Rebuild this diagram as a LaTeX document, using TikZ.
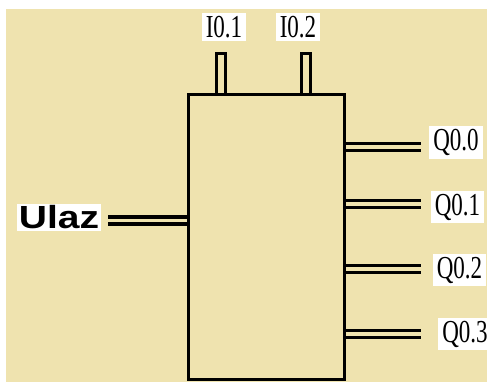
\documentclass[tikz,border=0pt]{standalone}
\usepackage{fontspec}
\usepackage{graphicx}
\setmainfont{Liberation Serif}
\newfontfamily\ulazfont{Liberation Sans}
\usetikzlibrary{positioning}

\definecolor{plcbg}{RGB}{239,227,175}
\newcommand{\plctxt}[1]{\scalebox{0.72}[1]{#1}}

\begin{document}
\begin{tikzpicture}[x=1pt, y=1pt,
    blk/.style={draw, line width=3.2pt, fill=plcbg, minimum width=156pt, minimum height=285pt, inner sep=0pt},
    pinline/.style={line width=3pt},
    wire/.style={line width=3.3pt, double=plcbg, double distance=3.7pt},
    lbl/.style={fill=white, inner xsep=4pt, inner ysep=3pt, font=\fontsize{32}{34}\selectfont},
    inlbl/.style={fill=white, inner xsep=2pt, inner ysep=2pt, font=\ulazfont\bfseries\fontsize{32}{34}\selectfont}
]
\useasboundingbox (0,0) rectangle (491,385);
\fill[plcbg] (6,3) rectangle (487,376);

% Block with two input pins on top
\draw[pinline] (216.5,288) -- (216.5,331.5) -- (225.5,331.5) -- (225.5,288);
\draw[pinline] (301.5,288) -- (301.5,331.5) -- (310.5,331.5) -- (310.5,288);
\node[blk] (blk) at (266.5,148) {};

% Input labels
\node[lbl] (i1) at (224,358) {\plctxt{I0.1}};
\node[lbl] (i2) at (298,358) {\plctxt{I0.2}};

% Ulaz input
\node[inlbl] (ulaz) at (59,167.5) {\scalebox{1.22}[1]{Ulaz}};
\coordinate (uin) at (108,164.5);
\draw[wire] (uin) -- (uin -| blk.west);

% Outputs
\coordinate (o0) at (421,238);
\coordinate (o1) at (421,181);
\coordinate (o2) at (421,116);
\coordinate (o3) at (421,51);
\draw[wire] (o0 -| blk.east) -- (o0);
\draw[wire] (o1 -| blk.east) -- (o1);
\draw[wire] (o2 -| blk.east) -- (o2);
\draw[wire] (o3 -| blk.east) -- (o3);

\node[lbl] (q0) at (456,242.5) {\plctxt{Q0.0}};
\node[lbl] (q1) at (457.5,178) {\plctxt{Q0.1}};
\node[lbl] (q2) at (459.5,115) {\plctxt{Q0.2}};
\node[lbl] (q3) at (465,51) {\plctxt{Q0.3}};

\end{tikzpicture}
\end{document}
